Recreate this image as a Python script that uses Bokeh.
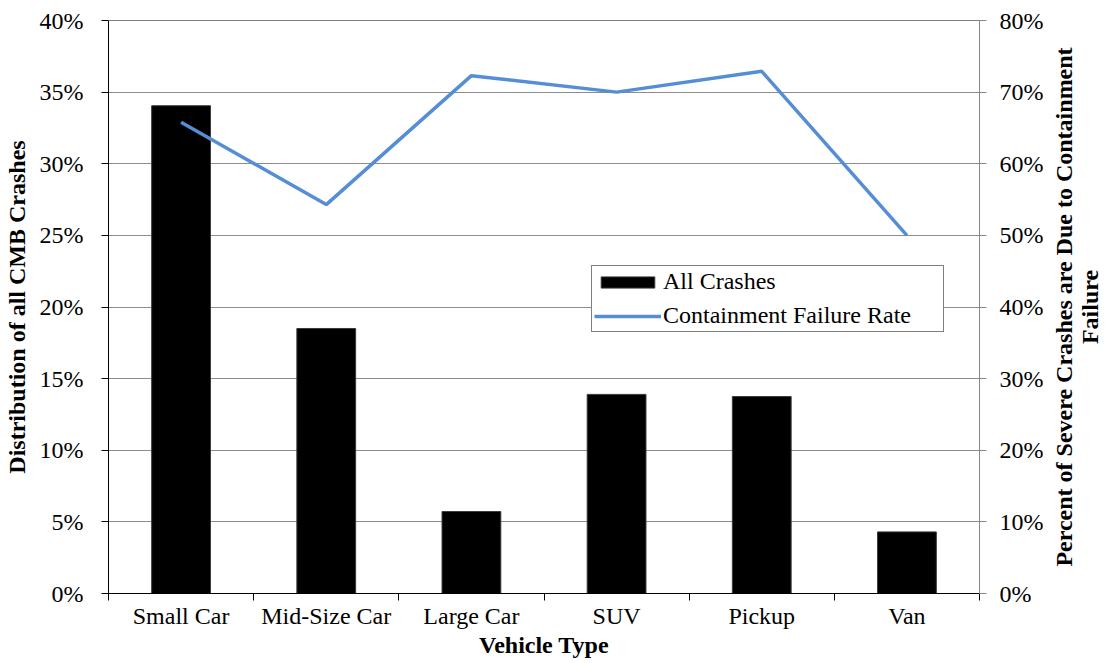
from bokeh.plotting import figure
from bokeh.layouts import row
from bokeh.models import (Range1d, LinearAxis, FixedTicker, PrintfTickFormatter,
                          Legend, LegendItem, Span)
from bokeh.embed import file_html
from bokeh.resources import INLINE

# ---------------- data ----------------
categories = ["Small Car", "Mid-Size Car", "Large Car", "SUV", "Pickup", "Van"]
all_crashes = [34.05, 18.5, 5.72, 13.9, 13.75, 4.3]          # % of all CMB crashes (left axis)
failure_rate = [65.8, 54.3, 72.3, 70.0, 72.9, 50.0]           # % severe due to containment failure (right axis)
left_ticks = [0, 5, 10, 15, 20, 25, 30, 35, 40]
right_ticks = [0, 10, 20, 30, 40, 50, 60, 70, 80]
right_title = "Percent of Severe Crashes are Due to Containment\nFailure"

positions = [i + 0.5 for i in range(len(categories))]
boundaries = list(range(len(categories) + 1))

FONT = "Liberation Serif"
FS = "24px"
W_MAIN, W_SIDE, H = 1046, 58, 660

p = figure(width=W_MAIN, height=H,
           x_range=Range1d(0, len(categories)),
           y_range=Range1d(left_ticks[0], left_ticks[-1]),
           output_backend="svg", toolbar_location=None,
           min_border_left=106, min_border_right=W_MAIN - 980,
           min_border_top=20, min_border_bottom=67)
p.extra_y_ranges = {"right": Range1d(right_ticks[0], right_ticks[-1])}
p.outline_line_color = None
p.background_fill_color = "white"
p.border_fill_color = "white"

# bars
bars = p.vbar(x=positions, top=all_crashes, width=0.405, bottom=0,
              fill_color="black", line_color="#3a3a3a", line_width=1)
# line
line = p.line(x=positions, y=failure_rate, y_range_name="right",
              line_color="#558ED5", line_width=3.5)

# x axis
xa = p.xaxis[0]
xa.ticker = FixedTicker(ticks=positions, minor_ticks=boundaries)
xa.major_label_overrides = {pos: c for pos, c in zip(positions, categories)}
xa.major_tick_line_color = None
xa.major_tick_out = 0
xa.major_tick_in = 0
xa.minor_tick_line_color = "black"
xa.minor_tick_out = 7
xa.minor_tick_in = 0
xa.major_label_standoff = 2
xa.axis_line_color = "black"
xa.axis_label = "Vehicle Type"
xa.axis_label_standoff = 0

# left y axis
ya = p.yaxis[0]
ya.ticker = FixedTicker(ticks=left_ticks)
ya.formatter = PrintfTickFormatter(format="%d%%")
ya.major_tick_out = 7
ya.major_tick_in = 0
ya.major_tick_line_color = "black"
ya.minor_tick_line_color = None
ya.axis_line_color = "black"
ya.major_label_standoff = 18
ya.axis_label = "Distribution of all CMB Crashes"
ya.axis_label_standoff = 7

# right y axis
ra = LinearAxis(y_range_name="right", ticker=FixedTicker(ticks=right_ticks),
                formatter=PrintfTickFormatter(format="%d%%"))
ra.major_tick_out = 7
ra.major_tick_in = 0
ra.major_tick_line_color = "#868686"
ra.minor_tick_line_color = None
ra.axis_line_color = "#868686"
ra.major_label_standoff = 13
p.add_layout(ra, "right")

for ax in (xa, ya, ra):
    ax.major_label_text_font = FONT
    ax.major_label_text_font_size = FS
    ax.major_label_text_color = "black"
    ax.axis_label_text_font = FONT
    ax.axis_label_text_font_size = FS
    ax.axis_label_text_font_style = "bold"
    ax.axis_label_text_color = "black"

# grid
p.xgrid.grid_line_color = None
p.ygrid.ticker = FixedTicker(ticks=left_ticks)
p.ygrid.grid_line_color = "#8c8c8c"
p.ygrid.grid_line_width = 1
p.add_layout(Span(location=left_ticks[-1], dimension="width",
                  line_color="black", line_width=1))

# legend
legend = Legend(items=[LegendItem(label="All Crashes", renderers=[bars]),
                       LegendItem(label="Containment Failure Rate", renderers=[line])],
                location=(483, 261), margin=0, padding=2, spacing=7,
                glyph_width=67, glyph_height=14, label_standoff=2,
                label_width=278, label_height=25,
                label_text_font=FONT, label_text_font_size=FS,
                label_text_color="black",
                border_line_color="black", border_line_width=1,
                background_fill_color="white", background_fill_alpha=1.0)
p.add_layout(legend)

# side strip carrying the right-hand axis title (reads bottom-to-top, two centred lines)
q = figure(width=W_SIDE, height=H, x_range=Range1d(0, 1), y_range=Range1d(0, 1),
           output_backend="svg", toolbar_location=None,
           min_border_left=W_SIDE - 2, min_border_right=0,
           min_border_top=20, min_border_bottom=67)
q.outline_line_color = None
q.background_fill_color = "white"
q.border_fill_color = "white"
q.xgrid.grid_line_color = None
q.ygrid.grid_line_color = None
q.xaxis.visible = False
qa = q.yaxis[0]
qa.ticker = FixedTicker(ticks=[])
qa.axis_line_color = None
qa.major_tick_line_color = None
qa.minor_tick_line_color = None
qa.major_tick_out = 0
qa.major_label_text_font_size = "0px"
qa.major_label_standoff = 0
qa.axis_label = right_title
qa.axis_label_standoff = 0
qa.axis_label_text_font = FONT
qa.axis_label_text_font_size = FS
qa.axis_label_text_font_style = "bold"
qa.axis_label_text_color = "black"
qa.axis_label_text_line_height = 1.0

layout = row(p, q, spacing=0)
open("out.html", "w").write(file_html(layout, INLINE))
